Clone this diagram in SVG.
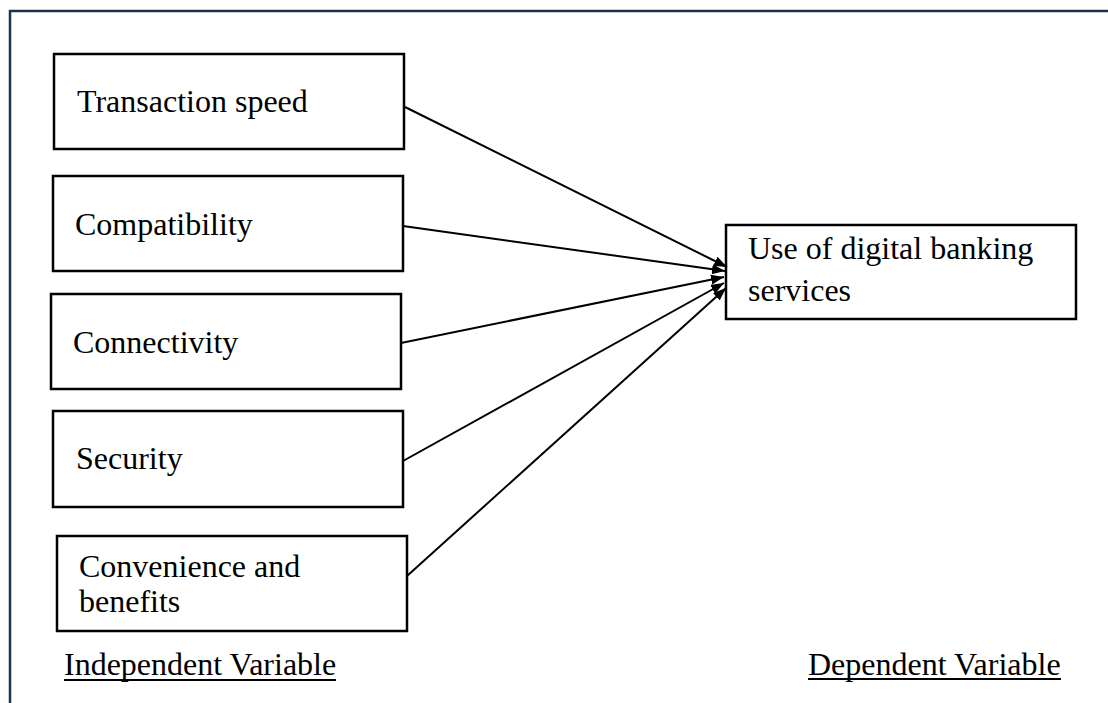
<svg xmlns="http://www.w3.org/2000/svg" width="1108" height="703" viewBox="0 0 1108 703">
<defs>
<style>
.box{fill:#fff;stroke:#000;stroke-width:2.5}
.t{font-family:"Liberation Serif","Times New Roman",serif;font-size:32px;fill:#000}
.c{stroke:#000;stroke-width:2;fill:none;marker-end:url(#ah)}
.u{stroke:#000;stroke-width:2}
</style>
<marker id="ah" markerUnits="userSpaceOnUse" markerWidth="14" markerHeight="12" refX="13" refY="5" orient="auto">
<path d="M0,0 L13,5 L0,10 Z" fill="#000"/>
</marker>
</defs>
<rect x="0" y="0" width="1108" height="703" fill="#fff"/>
<rect x="10" y="11" width="1120" height="720" fill="none" stroke="#1b3344" stroke-width="2.5"/>
<g id="n1"><rect class="box" x="54" y="54" width="350" height="95"/><text class="t" x="77" y="112">Transaction speed</text></g>
<g id="n2"><rect class="box" x="53" y="176" width="350" height="95"/><text class="t" x="75" y="235">Compatibility</text></g>
<g id="n3"><rect class="box" x="51" y="294" width="350" height="95"/><text class="t" x="73" y="353">Connectivity</text></g>
<g id="n4"><rect class="box" x="53" y="411" width="350" height="96"/><text class="t" x="76" y="469">Security</text></g>
<g id="n5"><rect class="box" x="57" y="536" width="350" height="95"/><text class="t" x="79" y="577">Convenience and</text><text class="t" x="79" y="612">benefits</text></g>
<g id="n6"><rect class="box" x="726" y="225" width="350" height="94"/><text class="t" x="748" y="259">Use of digital banking</text><text class="t" x="748" y="301">services</text></g>
<g id="connectors">
<line class="c" x1="405" y1="107" x2="727" y2="267"/>
<line class="c" x1="403" y1="226" x2="725" y2="271"/>
<line class="c" x1="401" y1="343" x2="724" y2="277"/>
<line class="c" x1="403" y1="461" x2="724" y2="283"/>
<line class="c" x1="407" y1="576" x2="726" y2="288"/>
</g>
<g id="labels">
<text class="t" x="64" y="675">Independent Variable</text>
<line class="u" x1="64" y1="680" x2="336" y2="680"/>
<text class="t" x="808" y="675">Dependent Variable</text>
<line class="u" x1="808" y1="679" x2="1061" y2="679"/>
</g>
</svg>
